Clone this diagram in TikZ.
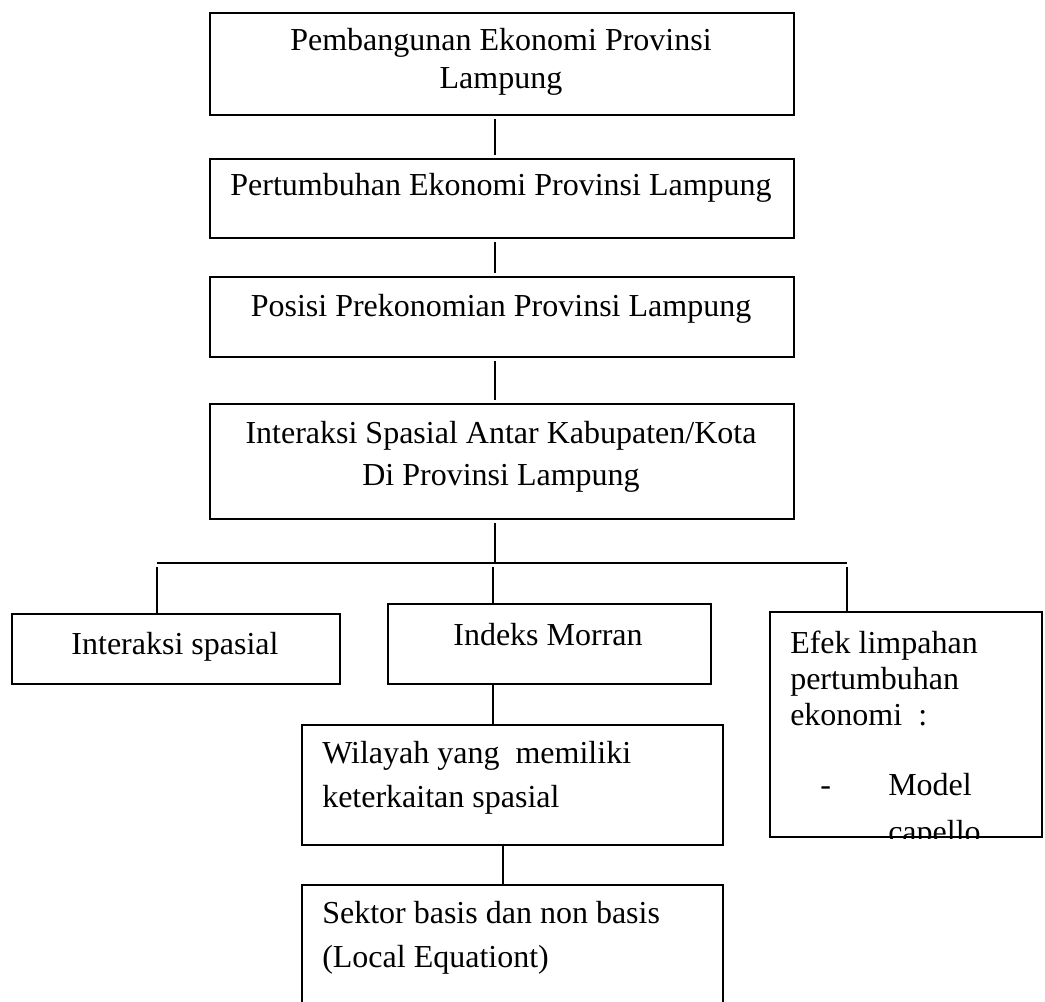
\documentclass[tikz,border=0pt]{standalone}
\usepackage{fontspec}
\setmainfont{Liberation Serif}
\newdimen\pxu
\pxu=0.75pt
\begin{document}
\begin{tikzpicture}[x=0.75pt, y=-0.75pt,
  box/.style={draw, line width=1.5pt, inner sep=0pt, anchor=north west},
  conn/.style={line width=1.1pt},
  txt/.style={inner sep=0pt, font=\fontsize{24}{28.5}\selectfont}]
\useasboundingbox (0,0) rectangle (1045,1001);
\clip (0,0) rectangle (1045,1001);
% trunk x positions
\coordinate (tr) at (495,0);
\coordinate (hL) at (157,563);
\coordinate (hR) at (847,563);
\coordinate (hM) at (495,563);
% boxes
\node[box, minimum width=584\pxu, minimum height=102\pxu] (b1) at (209,12) {};
\node[box, minimum width=584\pxu, minimum height=79\pxu] (b2) at (209,158) {};
\node[box, minimum width=584\pxu, minimum height=80\pxu] (b3) at (209,276) {};
\node[box, minimum width=584\pxu, minimum height=115\pxu] (b4) at (209,403) {};
\node[box, minimum width=328\pxu, minimum height=70\pxu] (c1) at (11,613) {};
\node[box, minimum width=323\pxu, minimum height=80\pxu] (c2) at (387,603) {};
\node[box, minimum width=272\pxu, minimum height=225\pxu] (c3) at (769,611) {};
\node[box, minimum width=421\pxu, minimum height=120\pxu] (w) at (301,724) {};
\node[box, minimum width=421\pxu, minimum height=140\pxu] (s) at (301,884) {};
% texts (multi-line nodes are placed by the baseline of their last line)
\node[txt, anchor=base, align=center] (t1) at (501,88) {Pembangunan Ekonomi Provinsi\\Lampung};
\node[txt, anchor=base] (t2) at (501,195) {Pertumbuhan Ekonomi Provinsi Lampung};
\node[txt, anchor=base] (t3) at (501,316) {Posisi Prekonomian Provinsi Lampung};
\node[txt, anchor=base, align=center, font=\fontsize{24}{31.5}\selectfont] (t4) at (501,485) {Interaksi Spasial Antar Kabupaten/Kota\\Di Provinsi Lampung};
\node[txt, anchor=base] (tc1) at (175,654) {Interaksi spasial};
\node[txt, anchor=base] (tc2) at (548,645) {Indeks Morran};
\begin{scope}
  \clip (c3.north west) rectangle (c3.south east);
  \node[txt, anchor=base west, align=left, font=\fontsize{24}{27}\selectfont] (te1) at (790,725) {Efek limpahan\\pertumbuhan\\ekonomi\ \ :};
  \node[txt, anchor=base west] (te2) at (820,795) {-};
  \node[txt, anchor=base west, align=left, font=\fontsize{24}{35}\selectfont] (te3) at (888,842) {Model\\capello};
\end{scope}
\node[txt, anchor=base west, align=left, font=\fontsize{24}{33}\selectfont] (tw) at (322,807) {Wilayah yang\ \ memiliki\\keterkaitan spasial};
\node[txt, anchor=base west, align=left, font=\fontsize{24}{33}\selectfont] (ts) at (322,967) {Sektor basis dan non basis\\(Local Equationt)};
% connectors
\draw[conn, shorten <=3\pxu, shorten >=3\pxu] (b1.south -| tr) -- (b2.north -| tr);
\draw[conn, shorten <=3\pxu, shorten >=3\pxu] (b2.south -| tr) -- (b3.north -| tr);
\draw[conn, shorten <=3\pxu, shorten >=3\pxu] (b3.south -| tr) -- (b4.north -| tr);
\draw[conn, shorten <=3\pxu] (b4.south -| tr) -- (hM);
\draw[conn] (hL) -- (hR);
\draw[conn, shorten <=4\pxu] (hL) -- (c1.north -| hL);
\draw[conn, shorten <=4\pxu] (493,563) coordinate (hM2) -- (c2.north -| hM2);
\draw[conn, shorten <=4\pxu] (hR) -- (c3.north -| hR);
\coordinate (m2) at (493,700);
\draw[conn] (c2.south -| m2) -- (w.north -| m2);
\coordinate (m3) at (503,860);
\draw[conn] (w.south -| m3) -- (s.north -| m3);
\end{tikzpicture}
\end{document}
